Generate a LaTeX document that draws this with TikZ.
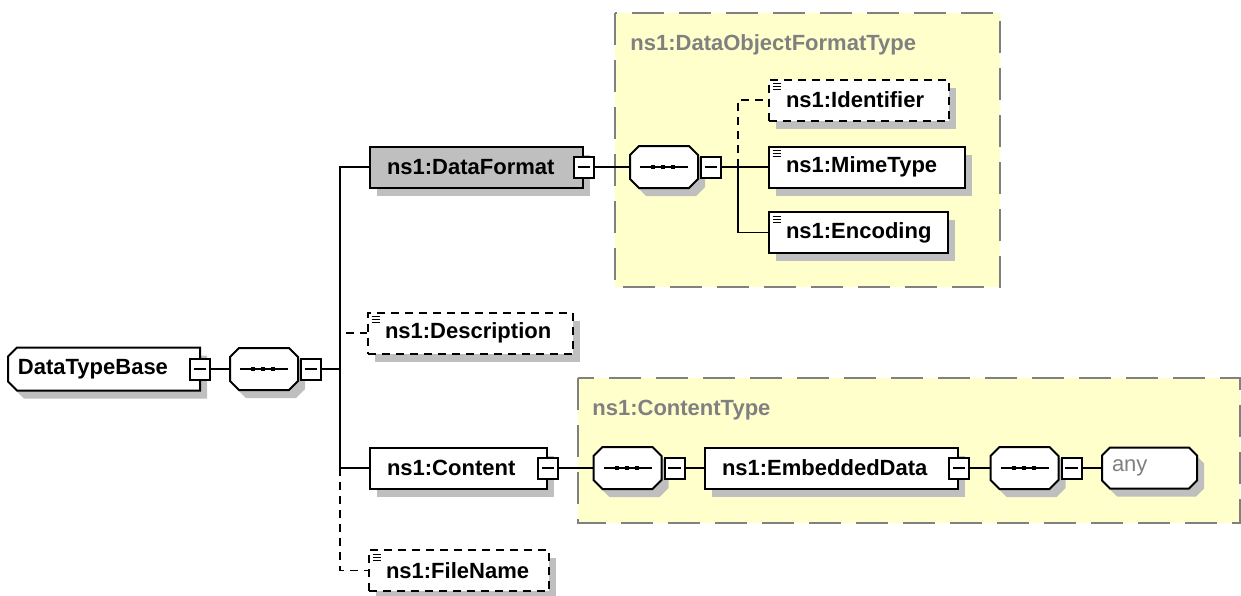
\documentclass[tikz,border=0pt]{standalone}
\usepackage{fontspec}
\setmainfont{Liberation Sans}
\usetikzlibrary{shadows}
\definecolor{typefill}{RGB}{255,255,204}
\definecolor{typeline}{RGB}{128,128,128}
\pgfdeclarelayer{back}
\pgfdeclarelayer{shapes}
\pgfsetlayers{back,shapes,main}

% outline with cut corners: node, left cut, right cut
\newcommand\champath[3]{([xshift=#2]#1.north west) -- ([xshift=-#3]#1.north east) -- ([yshift=-#3]#1.north east)
  -- ([yshift=#3]#1.south east) -- ([xshift=-#3]#1.south east) -- ([xshift=#2]#1.south west)
  -- ([yshift=#2]#1.south west) -- ([yshift=-#2]#1.north west) -- cycle}
\newcommand\octo[3]{%
  \begin{pgfonlayer}{shapes}
  \fill[black!25,transform canvas={xshift=3.5pt,yshift=-4pt}] \champath{#1}{#2}{#3};
  \draw[line width=1pt,fill=white] \champath{#1}{#2}{#3};
  \end{pgfonlayer}}
\newcommand\seqmark[1]{%
  \draw[line width=0.8pt] ([xshift=5pt]#1.west) -- ([xshift=-5pt]#1.east);
  \foreach \d in {-6.5,-1.5,3.5}
    \fill ([xshift=\d pt,yshift=-1.1pt]#1.center) rectangle ++(2.2pt,2.2pt);}

\begin{document}
\begin{tikzpicture}[x=0.5pt,y=-0.5pt,
  font=\fontsize{11}{13}\selectfont\bfseries,
  link/.style={line width=0.8pt},
  shade/.style={general shadow={fill=black!25,shadow xshift=3.5pt,shadow yshift=-4pt}},
  box/.style={draw,line width=1pt,fill=white,shade,minimum height=20.5pt,
    inner xsep=8.5pt,inner ysep=0pt,text width=#1,align=left},
  opt/.style={dash pattern=on 4pt off 3pt},
  simple/.style={path picture={\foreach \k in {0,1,2}
    \draw[solid,line width=0.5pt] ([xshift=1.8pt,yshift=-2.2pt-\k*1.4pt]path picture bounding box.north west) -- ++(4.2pt,0pt);}},
  minus/.style={draw,line width=1pt,fill=white,minimum width=10pt,minimum height=10.5pt,inner sep=0pt,
    path picture={\draw[line width=0.7pt] ([xshift=1.8pt]path picture bounding box.west) -- ([xshift=-1.8pt]path picture bounding box.east);}},
  seq/.style={minimum width=34pt,minimum height=21pt,inner sep=0pt,outer sep=0pt},
  cut/.style={inner ysep=0pt,outer sep=0pt,minimum height=#1,align=left},
  typebox/.style={draw=typeline,fill=typefill,line width=1pt,dash pattern=on 16pt off 7.5pt},
  title/.style={text=typeline,inner sep=0pt,anchor=base west}]
\useasboundingbox (0,0) rectangle (1241,595);

% complex types
\begin{pgfonlayer}{back}
\draw[typebox] (615,13) rectangle (1000,287);
\draw[typebox] (578,378) rectangle (1240,523);
\end{pgfonlayer}
\node[title] (fmtlbl) at (630,50) {ns1:DataObjectFormatType};
\node[title] (contlbl) at (592,415) {ns1:ContentType};

% root
\node[cut=21.5pt,text width=86pt,inner xsep=5pt] (root) at (104,369) {DataTypeBase};
\octo{root}{4.5pt}{0pt}
\node[minus] (mroot) at (root.east) {};
\node[seq] (seq0) at (264,369) {};
\octo{seq0}{4.5pt}{4.5pt}
\seqmark{seq0}
\node[minus,anchor=west] (m0) at ([xshift=1pt]seq0.east) {};
\coordinate (t1) at (340,369);

% children of root
\node[box=89.5pt,fill=black!25] (df) at (476.5,167) {ns1:DataFormat};
\node[minus] (mdf) at (df.east) {};
\node[box=85.5pt,simple,opt] (desc) at (470.5,333) {ns1:Description};
\node[box=71.5pt] (cont) at (458.5,468) {ns1:Content};
\node[minus] (mcont) at (cont.east) {};
\node[box=73pt,simple,opt] (fn) at (459,570.5) {ns1:FileName};

% DataFormat content
\node[seq] (seq1) at (664,167) {};
\octo{seq1}{4.5pt}{4.5pt}
\seqmark{seq1}
\node[minus,anchor=west] (m1) at ([xshift=1pt]seq1.east) {};
\coordinate (t2) at (738,167);
\node[box=73pt,simple,opt] (ident) at (859,100) {ns1:Identifier};
\node[box=81pt,simple] (mime) at (867,167) {ns1:MimeType};
\node[box=72.5pt,simple] (enc) at (858.5,232.5) {ns1:Encoding};

% Content content
\node[seq] (seq2) at (627.5,468) {};
\octo{seq2}{4.5pt}{4.5pt}
\seqmark{seq2}
\node[minus,anchor=west] (m2) at ([xshift=1pt]seq2.east) {};
\node[box=109.5pt] (emb) at (831.5,468) {ns1:EmbeddedData};
\node[minus] (memb) at (emb.east) {};
\node[seq] (seq3) at (1024.5,468) {};
\octo{seq3}{4.5pt}{4.5pt}
\seqmark{seq3}
\node[minus,anchor=west] (m3) at ([xshift=1pt]seq3.east) {};
\node[cut=20.5pt,text width=37.5pt,inner xsep=5pt,text=black!50,
  font=\fontsize{11}{13}\selectfont\mdseries] (any) at (1149.5,468) {any};
\octo{any}{4pt}{4pt}

% connectors
\draw[link] (mroot.east) -- (seq0.west);
\draw[link] (m0.east) -- (t1);
\draw[link] (t1) |- (df.west);
\draw[link] (t1) |- (cont.west);
\draw[link,opt] (t1) |- (desc.west);
\draw[link,opt] (t1 |- cont.west) |- (fn.west);
\draw[link] (mdf.east) -- (seq1.west);
\draw[link] (m1.east) -- (mime.west);
\draw[link] (t2) |- (enc.west);
\draw[link,opt] (t2) |- (ident.west);
\draw[link] (mcont.east) -- (seq2.west);
\draw[link] (m2.east) -- (emb.west);
\draw[link] (memb.east) -- (seq3.west);
\draw[link] (m3.east) -- (any.west);
\end{tikzpicture}
\end{document}
